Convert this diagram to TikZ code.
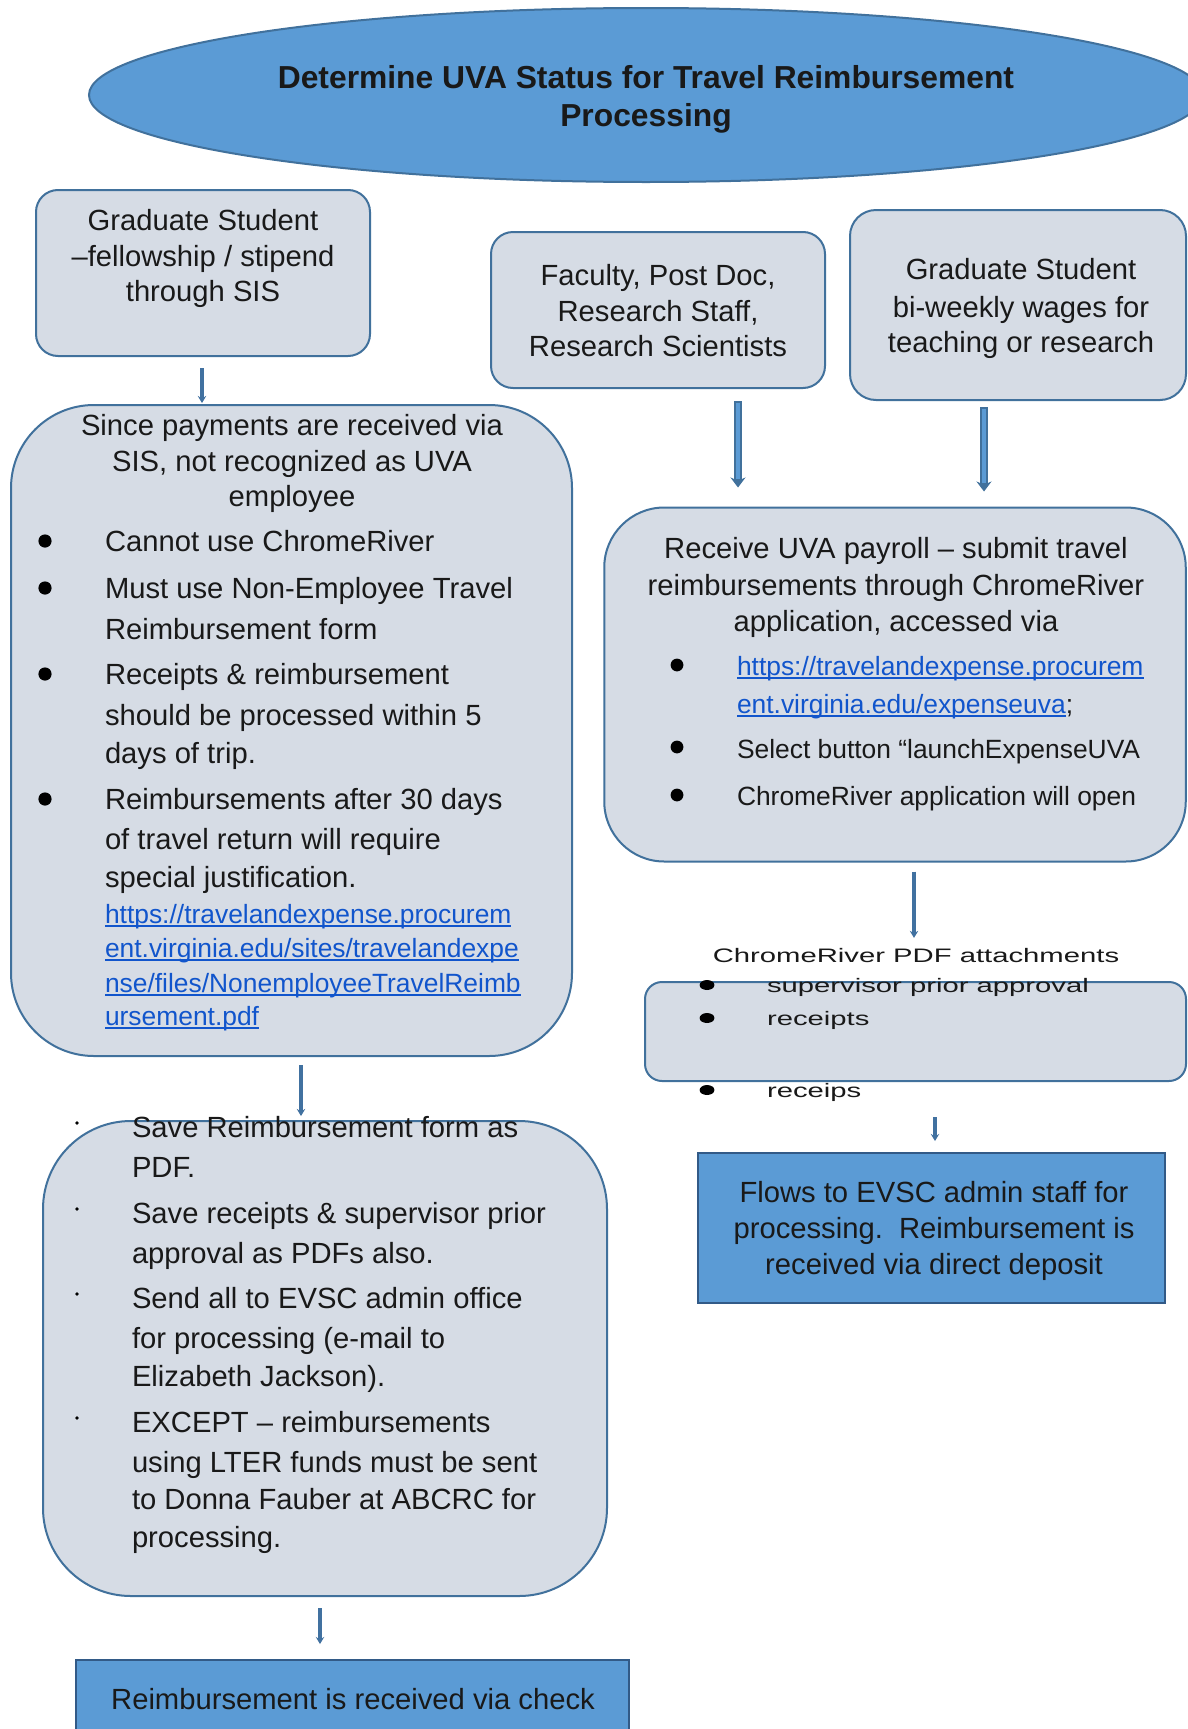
\documentclass[tikz,border=0pt]{standalone}
\usepackage{fontspec}
\setmainfont{Liberation Sans}
\usetikzlibrary{shapes.geometric,arrows.meta,calc}
\definecolor{boxfill}{RGB}{214,220,229}
\definecolor{boxline}{RGB}{65,113,156}
\definecolor{bluefill}{RGB}{91,155,213}
\definecolor{blueline}{RGB}{50,90,135}
\definecolor{arrowc}{RGB}{65,113,160}
\definecolor{linkc}{RGB}{17,85,204}
\definecolor{txt}{RGB}{25,25,25}
\begin{document}
\begin{tikzpicture}[x=0.5pt,y=-0.5pt,
  box/.style={draw=boxline, fill=boxfill, line width=1pt, inner sep=0pt},
  bluebox/.style={draw=blueline, fill=bluefill, line width=1pt, inner sep=0pt},
  tl/.style={inner sep=0pt, outer sep=0pt, anchor=base, text=txt, font=\fontsize{14.6pt}{17pt}\selectfont},
  tll/.style={tl, anchor=base west},
  sm/.style={tll, font=\fontsize{13.2pt}{16pt}\selectfont},
  lk/.style={sm, text=linkc},
  tiny/.style={tll, font=\fontsize{9.75pt}{12pt}\selectfont},
  ul/.style={draw=linkc, line width=0.6pt},
  arr/.style={draw=arrowc, line width=1.6pt, -{Stealth[length=3.5pt,width=4.2pt]}},
  tarr/.style={draw=boxline, line width=4pt, -{Stealth[length=5pt,width=7.5pt]},
               postaction={draw=bluefill, line width=2.4pt, shorten >=4.5pt, shorten <=0.8pt, -}}
]
\useasboundingbox (0,0) rectangle (1188,1729);
\clip (0,0) rectangle (1188,1729);
\fill[white] (0,0) rectangle (1188,1729);

% title ellipse
\node[ellipse, draw=boxline, fill=bluefill, line width=1pt, inner sep=0pt,
      minimum width=557pt, minimum height=87pt] (title) at (646,95) {};
\node[tl, font=\bfseries\fontsize{15.9pt}{19pt}\selectfont] (ti1) at (646,88) {Determine UVA Status for Travel Reimbursement};
\node[tl, font=\bfseries\fontsize{15.9pt}{19pt}\selectfont] (ti2) at (646,126) {Processing};

% box A
\node[box, rounded corners=11pt, minimum width=167pt, minimum height=83pt] (A) at (203,273) {};
\node[tl] (a1) at (203,230) {Graduate Student};
\node[tl] (a2) at (203,266) {--fellowship / stipend};
\node[tl] (a3) at (203,301) {through SIS};

% box B
\node[box, rounded corners=11pt, minimum width=167pt, minimum height=78pt] (B) at (658,310) {};
\node[tl] (b1) at (658,285) {Faculty, Post Doc,};
\node[tl] (b2) at (658,321) {Research Staff,};
\node[tl] (b3) at (658,356) {Research Scientists};

% box C
\node[box, rounded corners=13pt, minimum width=168pt, minimum height=95pt] (C) at (1018,305) {};
\node[tl] (c1) at (1021,279) {Graduate Student};
\node[tl] (c2) at (1021,317) {bi-weekly wages for};
\node[tl] (c3) at (1021,352) {teaching or research};

% box D
\node[box, rounded corners=41.5pt, minimum width=280.5pt, minimum height=325.5pt] (D) at (291.5,730.5) {};
\node[tl] (d1) at (292,435) {Since payments are received via};
\node[tl] (d2) at (292,471) {SIS, not recognized as UVA};
\node[tl] (d3) at (292,506) {employee};
\fill[black] (45,541) circle (3.3pt);
\fill[black] (45,588) circle (3.3pt);
\fill[black] (45,674) circle (3.3pt);
\fill[black] (45,799) circle (3.3pt);
\node[tll] (d4) at (105,551) {Cannot use ChromeRiver};
\node[tll] (d5) at (105,598) {Must use Non-Employee Travel};
\node[tll] (d6) at (105,639) {Reimbursement form};
\node[tll] (d7) at (105,684) {Receipts \& reimbursement};
\node[tll] (d8) at (105,725) {should be processed within 5};
\node[tll] (d9) at (105,763) {days of trip.};
\node[tll] (d10) at (105,809) {Reimbursements after 30 days};
\node[tll] (d11) at (105,849) {of travel return will require};
\node[tll] (d12) at (105,887) {special justification.};
\node[lk] (dl1) at (105,923) {https://travelandexpense.procurem};
\node[lk] (dl2) at (105,957) {ent.virginia.edu/sites/travelandexpe};
\node[lk] (dl3) at (105,992) {nse/files/NonemployeeTravelReimb};
\node[lk] (dl4) at (105,1025) {ursement.pdf};
\foreach \n in {dl1,dl2,dl3,dl4}
  \draw[ul] ($(\n.base west)+(0,3)$) -- ($(\n.base east)+(0,3)$);

% box E
\node[box, rounded corners=30pt, minimum width=290.75pt, minimum height=177pt] (E) at (895,684.5) {};
\node[tl] (e1) at (896,558) {Receive UVA payroll -- submit travel};
\node[tl] (e2) at (896,595) {reimbursements through ChromeRiver};
\node[tl] (e3) at (896,631) {application, accessed via};
\fill[black] (677,665) circle (3.2pt);
\fill[black] (677,747) circle (3.2pt);
\fill[black] (677,795) circle (3.2pt);
\node[lk] (el1) at (737,675) {https://travelandexpense.procurem};
\node[lk] (el2) at (737,713) {ent.virginia.edu/expenseuva};
\node[sm, anchor=base west] (el2s) at (el2.base east) {;};
\foreach \n in {el1,el2}
  \draw[ul] ($(\n.base west)+(0,3)$) -- ($(\n.base east)+(0,3)$);
\node[sm] (e4) at (737,758) {Select button “launchExpenseUVA};
\node[sm] (e5) at (737,805) {ChromeRiver application will open};

% box F
\node[box, rounded corners=8.5pt, minimum width=270.5pt, minimum height=49.5pt] (F) at (915.5,1031.5) {};
\node[tl, font=\fontsize{9.75pt}{12pt}\selectfont] (fl) at (916,962) {\scalebox{1.5}[1]{ChromeRiver PDF attachments}};
\fill[black] (707,985) ellipse (3.7pt and 2.5pt);
\fill[black] (707,1018) ellipse (3.7pt and 2.5pt);
\fill[black] (707,1090) ellipse (3.7pt and 2.5pt);
\node[tiny] (f1) at (767,992) {\scalebox{1.5}[1]{supervisor prior approval}};
\node[tiny] (f2) at (767,1025) {\scalebox{1.5}[1]{receipts}};
\node[tiny] (f3) at (767,1097) {\scalebox{1.5}[1]{receips}};

% box G
\node[bluebox, minimum width=233.5pt, minimum height=75pt] (G) at (931.5,1228) {};
\node[tl] (g1) at (934,1202) {Flows to EVSC admin staff for};
\node[tl] (g2) at (934,1238) {processing.\ \ Reimbursement is};
\node[tl] (g3) at (934,1274) {received via direct deposit};

% box H
\node[box, rounded corners=44pt, minimum width=282pt, minimum height=237.5pt] (H) at (325,1358.5) {};
\fill[black] (77,1123) circle (0.9pt);
\fill[black] (77,1209) circle (0.9pt);
\fill[black] (77,1294) circle (0.9pt);
\fill[black] (77,1418) circle (0.9pt);
\node[tll] (h1) at (132,1137) {Save Reimbursement form as};
\node[tll] (h2) at (132,1177) {PDF.};
\node[tll] (h3) at (132,1223) {Save receipts \& supervisor prior};
\node[tll] (h4) at (132,1263) {approval as PDFs also.};
\node[tll] (h5) at (132,1308) {Send all to EVSC admin office};
\node[tll] (h6) at (132,1348) {for processing (e-mail to};
\node[tll] (h7) at (132,1386) {Elizabeth Jackson).};
\node[tll] (h8) at (132,1432) {EXCEPT -- reimbursements};
\node[tll] (h9) at (132,1472) {using LTER funds must be sent};
\node[tll] (h10) at (132,1509) {to Donna Fauber at ABCRC for};
\node[tll] (h11) at (132,1547) {processing.};

% box I
\node[bluebox, minimum width=276.5pt, minimum height=45.5pt, anchor=north] (I) at (352.5,1659) {};
\node[tl] (i1) at (353,1709) {Reimbursement is received via check};

% connectors
\draw[arr] ($(A.south)+(-1,11)$) -- ($(A.south |- D.north)+(-1,-1)$);
\draw[tarr] ($(B.south)+(80,12)$) -- ($(B.south |- E.north)+(80,-19)$);
\draw[tarr] ($(C.south)+(-34,6)$) -- ($(C.south |- E.north)+(-34,-15)$);
\draw[arr] ($(E.south)+(19,9)$) -- ($(E.south |- fl.north)+(19,-10)$);
\draw[arr] ($(F.south)+(19.5,35)$) -- ($(F.south |- G.north)+(19.5,-11)$);
\draw[arr] ($(D.south)+(9.5,8)$) -- ($(D.south |- H.north)+(9.5,-4)$);
\draw[arr] ($(H.south)+(-5,11)$) -- ($(H.south |- I.north)+(-5,-15)$);
\end{tikzpicture}
\end{document}
